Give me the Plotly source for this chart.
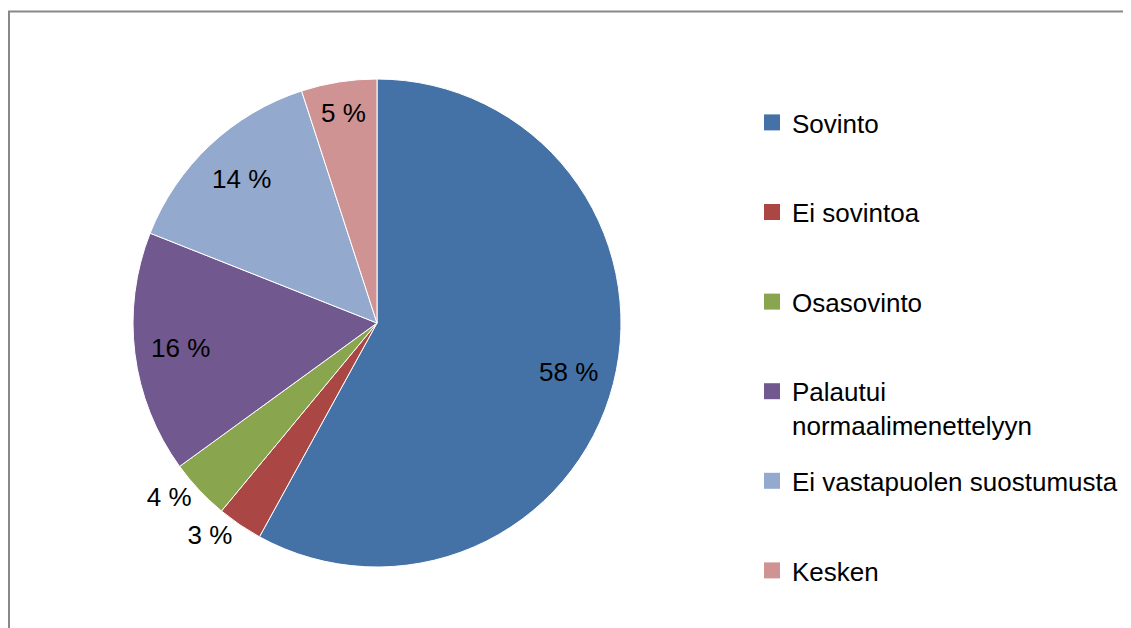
import numpy as np
import plotly.graph_objects as go

# Jakautuminen (%)
labels = ["Sovinto", "Ei sovintoa", "Osasovinto", "Palautui<br>normaalimenettelyyn",
          "Ei vastapuolen suostumusta", "Kesken"]
values = [58, 3, 4, 16, 14, 5]
colors = ["#4472A7", "#AA4643", "#89A54E", "#71588F", "#94A9CE", "#D09393"]

# label placement: None -> outside the pie, otherwise fraction of radius
label_r = [0.81, None, None, 0.81, 0.81, 0.87]

FONT = "Liberation Sans Narrow, Arial Narrow, Liberation Sans, Arial, sans-serif"
W, H = 1131, 628

# pie centre and radius in figure pixels
cx, cy, r = 369, 315, 244

fig = go.Figure()
fig.add_trace(go.Pie(
    labels=labels, values=values,
    sort=False, direction="clockwise", rotation=0,
    marker=dict(colors=colors, line=dict(color="white", width=1)),
    texttemplate="%{value} %",
    textposition=["outside" if f is None else "none" for f in label_r],
    textfont=dict(family=FONT, size=26, color="black"),
    domain=dict(x=[(cx - r) / W, (cx + r) / W], y=[1 - (cy + r) / H, 1 - (cy - r) / H]),
    showlegend=False, hoverinfo="label+percent",
))

# inside data labels, Excel style, on the slice mid-angle
vals = np.array(values, dtype=float)
mid = (np.cumsum(vals) - vals / 2) / vals.sum() * 2 * np.pi
annotations = []
for v, a, f in zip(values, mid, label_r):
    if f is None:
        continue
    px = cx + f * r * np.sin(a)
    py = cy - f * r * np.cos(a)
    annotations.append(dict(x=px / W, y=1 - py / H, xref="paper", yref="paper",
                            xanchor="center", yanchor="middle",
                            text=f"{v} %", showarrow=False,
                            font=dict(family=FONT, size=26, color="black")))

# legend entries (blank second line keeps every entry the same height)
for lab, col in zip(labels, colors):
    name = lab if "<br>" in lab else lab + "<br> "
    fig.add_trace(go.Scatter(
        x=[None], y=[None], mode="markers", name=name, legendgroup=lab,
        marker=dict(symbol="square", size=16, color=col),
    ))

fig.update_layout(
    width=W, height=H,
    margin=dict(l=0, r=0, t=0, b=0),
    paper_bgcolor="white", plot_bgcolor="white",
    xaxis=dict(visible=False), yaxis=dict(visible=False),
    font=dict(family=FONT, size=26, color="black"),
    annotations=annotations,
    legend=dict(x=744 / W, y=1 - 91 / H, xanchor="left", yanchor="top",
                valign="top", tracegroupgap=19, traceorder="grouped",
                font=dict(family=FONT, size=26, color="black"),
                bgcolor="rgba(0,0,0,0)"),
    shapes=[dict(type="rect", xref="paper", yref="paper",
                 x0=1 / W, x1=1.02, y0=-0.02, y1=1 - 3.5 / H,
                 line=dict(color="#888888", width=2))],
)

fig.write_html("out.html")
